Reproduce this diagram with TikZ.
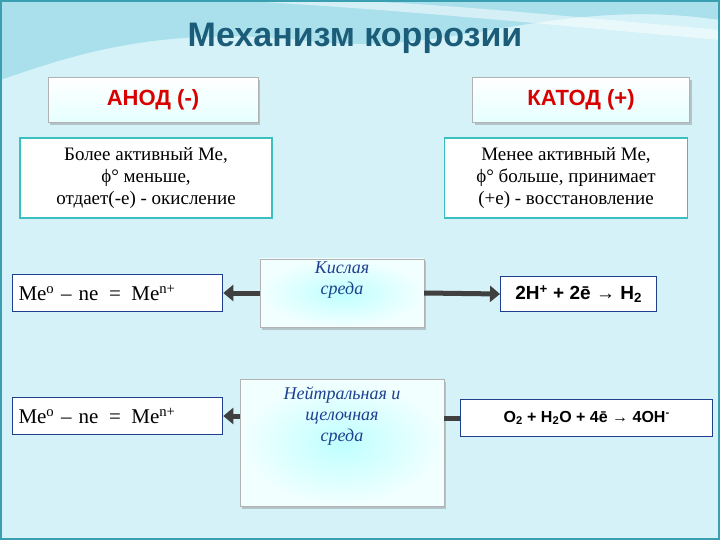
\documentclass[tikz,border=0pt]{standalone}
\usepackage{fontspec}
\setmainfont{Liberation Serif}
\setsansfont{Liberation Sans}
\usetikzlibrary{arrows.meta,shadows}
\definecolor{bg}{HTML}{D4F2F7}
\definecolor{frame}{HTML}{3A9FB0}
\definecolor{ttl}{HTML}{1B5C78}
\definecolor{teal}{HTML}{3DBFC0}
\definecolor{blu}{HTML}{1F3F8F}
\definecolor{wave}{HTML}{8FD3E6}
\tikzset{
 hdr/.style={draw=gray!60,fill=white,top color=white,bottom color=cyan!10,drop shadow={opacity=0.4},font=\sffamily\bfseries\fontsize{22}{24}\selectfont,text=red!85!black},
 info/.style={draw=teal,line width=1.3pt,fill=white,align=center,font=\fontsize{19}{22}\selectfont},
 eq/.style={draw=blu,line width=1.3pt,fill=white},
 lefteq/.style={eq,text width=198pt,align=left,minimum height=37,font=\fontsize{21}{24}\selectfont,anchor=west,inner sep=6pt},
 med/.style={draw=gray!60,inner color=cyan!25,outer color=cyan!5,drop shadow={opacity=0.4},align=center,font=\itshape\fontsize{18}{21}\selectfont,text=blu},
 arr/.style={-{Triangle[length=10pt,width=16pt]},line width=5pt,draw=black!75}
}
\begin{document}
\begin{tikzpicture}[x=1pt,y=-1pt]
\useasboundingbox (0,0) rectangle (720,540);
\fill[bg] (0,0) rectangle (720,540);
\fill[wave,opacity=0.6] (0,0) -- (720,0) -- (720,20) .. controls (550,-5) and (450,60) .. (300,40) .. controls (150,25) and (60,60) .. (0,80) -- cycle;
\fill[white,opacity=0.5] (230,0) .. controls (400,10) and (500,20) .. (720,40) -- (720,30) .. controls (500,10) and (400,0) .. (300,0) -- cycle;
\draw[frame,line width=2pt] (1,1) rectangle (719,539);
\node[font=\sffamily\bfseries\fontsize{34}{38}\selectfont,text=ttl] (t) at (355,38) {Механизм коррозии};
\node[hdr,minimum width=210,minimum height=45] (an) at (153,100) {АНОД (-)};
\node[hdr,minimum width=217,minimum height=45] (ka) at (581,100) {КАТОД (+)};
\node[info,minimum width=252,minimum height=80] (ai) at (146,178) {Более активный Ме,\\ ϕ° меньше,\\ отдает(-е) - окисление};
\node[info,minimum width=243,minimum height=80] (ki) at (566,178) {Менее активный Ме,\\ ϕ° больше, принимает\\ (+е) - восстановление};
\node[med,minimum width=164,minimum height=68] (m1) at (342,293) {Кислая\\ среда\\[8pt]};
\node[med,minimum width=204,minimum height=127] (m2) at (342,443) {Нейтральная и\\ щелочная\\ среда\\[36pt]};
\node[lefteq] (l1) at (12,293) {Ме\textsuperscript{о} – ne \,=\, Me\textsuperscript{n+}};
\node[lefteq] (l2) at (12,416) {Ме\textsuperscript{о} – ne \,=\, Me\textsuperscript{n+}};
\node[eq,minimum width=156,minimum height=35,font=\sffamily\bfseries\fontsize{19}{21}\selectfont,anchor=west,inner sep=2pt] (r1) at (500,294) {2H\textsuperscript{+} + 2ē → H\textsubscript{2}};
\node[eq,minimum width=252,minimum height=37,font=\sffamily\bfseries\fontsize{16}{18}\selectfont,anchor=west] (r2) at (460,418) {O\textsubscript{2} + H\textsubscript{2}O + 4ē → 4OH\textsuperscript{-}};
\draw[arr] (m1.west) -- (l1.east);
\draw[arr] (m1.east) -- (r1.west);
\draw[arr] (m2.west |- l2.east) -- (l2.east);
\draw[line width=5pt,draw=black!75] (m2.east |- r2.west) -- (r2.west);
\end{tikzpicture}
\end{document}
